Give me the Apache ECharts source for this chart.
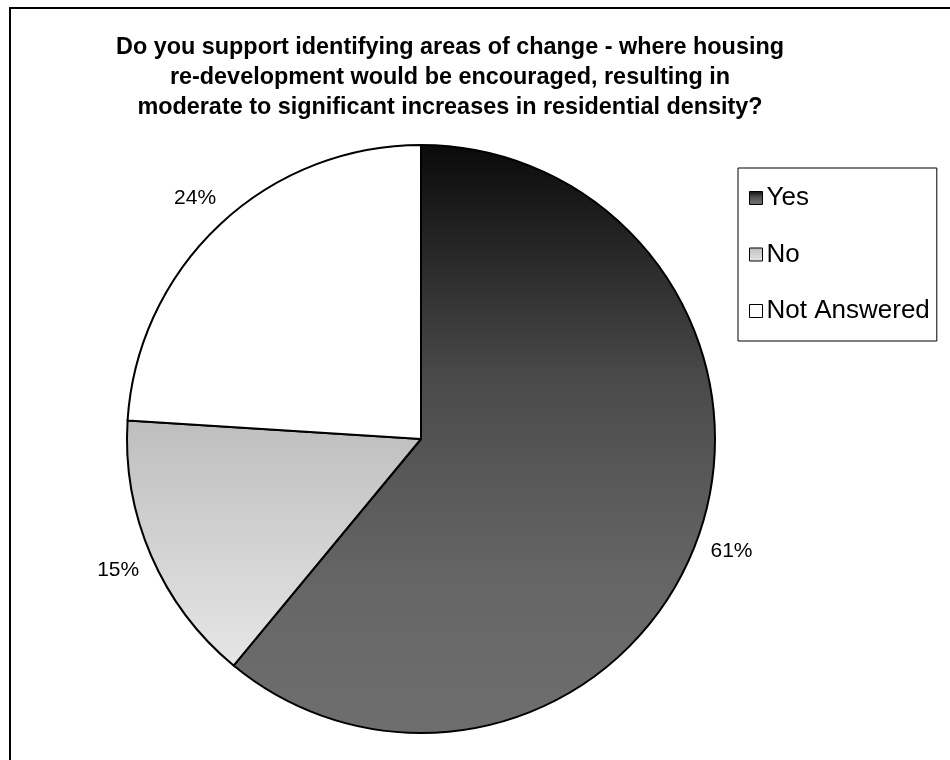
<!DOCTYPE html>
<html>
<head>
<meta charset="utf-8">
<title>Areas of change survey</title>
<script src="https://cdn.jsdelivr.net/npm/echarts@6/dist/echarts.min.js"></script>
<style>
  html, body { margin: 0; padding: 0; background: #fff; }
  #chart { width: 950px; height: 760px; }
</style>
</head>
<body>
<div id="chart"></div>
<script>
// Survey responses (percent of respondents)
const answers = ['Yes', 'No', 'Not Answered'];
const shares = [61, 15, 24];
const titleLines = [
  'Do you support identifying areas of change - where housing',
  're-development would be encouraged, resulting in',
  'moderate to significant increases in residential density?'
];

const FONT = '"Liberation Sans", Arial, sans-serif';
const CENTER = [421, 439];
const RADIUS = 294;

// Vertical gradient fills, one per answer
const fills = {
  'Yes': {
    type: 'linear', x: 0, y: 0, x2: 0, y2: 1,
    colorStops: [
      { offset: 0, color: '#0a0a0a' },
      { offset: 0.4, color: '#4a4a4a' },
      { offset: 0.55, color: '#575757' },
      { offset: 0.75, color: '#666666' },
      { offset: 1, color: '#6e6e6e' }
    ]
  },
  'No': {
    type: 'linear', x: 0, y: 0, x2: 0, y2: 1,
    colorStops: [
      { offset: 0, color: '#bebebe' },
      { offset: 1, color: '#e6e6e6' }
    ]
  },
  'Not Answered': '#ffffff'
};

const sliceData = answers.map((name, i) => ({
  name: name,
  value: shares[i],
  itemStyle: { color: fills[name] }
}));

// Transparent ring just outside the pie that carries the percentage labels
const labelRingData = answers.map((name, i) => ({ name: name, value: shares[i] }));

const chart = echarts.init(document.getElementById('chart'), null, { renderer: 'canvas' });

chart.setOption({
  animation: false,
  backgroundColor: '#ffffff',
  title: {
    text: titleLines.join('\n'),
    left: 450,
    top: 33,
    textAlign: 'center',
    padding: 0,
    textStyle: {
      fontFamily: FONT,
      fontSize: 23.4,
      fontWeight: 'bold',
      color: '#000',
      lineHeight: 30
    }
  },
  legend: {
    orient: 'vertical',
    left: 738,
    top: 168,
    data: answers,
    selectedMode: false,
    icon: 'rect',
    itemWidth: 13,
    itemHeight: 13,
    itemGap: 28.5,
    padding: [16, 7, 16, 11],
    borderColor: '#000',
    borderWidth: 1,
    backgroundColor: '#fff',
    itemStyle: { borderColor: '#000', borderWidth: 1 },
    textStyle: {
      fontFamily: FONT,
      fontSize: 26,
      color: '#000',
      lineHeight: 28,
      padding: [0, 0, 0, -1]
    }
  },
  graphic: [{
    type: 'rect',
    silent: true,
    z: 100,
    shape: { x: 10, y: 8, width: 1000, height: 800 },
    style: { fill: 'none', stroke: '#000', lineWidth: 2 }
  }],
  series: [
    {
      name: 'Response',
      type: 'pie',
      center: CENTER,
      radius: [0, RADIUS],
      startAngle: 90,
      clockwise: true,
      silent: true,
      label: { show: false },
      labelLine: { show: false },
      itemStyle: { borderColor: '#000', borderWidth: 2 },
      emphasis: { disabled: true },
      data: sliceData
    },
    {
      name: 'Share',
      type: 'pie',
      center: CENTER,
      radius: [RADIUS, RADIUS + 66],
      startAngle: 90,
      clockwise: true,
      silent: true,
      itemStyle: { color: 'rgba(0,0,0,0)', borderWidth: 0 },
      label: {
        show: true,
        position: 'inside',
        formatter: '{c}%',
        fontFamily: FONT,
        fontSize: 21,
        color: '#000'
      },
      labelLine: { show: false },
      emphasis: { disabled: true },
      data: labelRingData
    }
  ]
});
</script>
</body>
</html>
